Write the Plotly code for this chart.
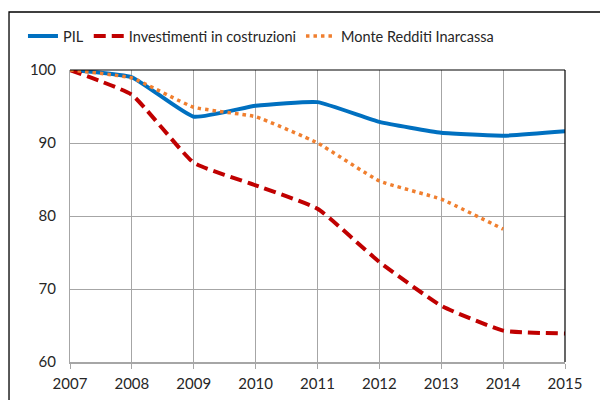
import plotly.graph_objects as go

years = [2007, 2008, 2009, 2010, 2011, 2012, 2013, 2014, 2015]
pil = [100, 99.0, 93.6, 95.1, 95.6, 92.9, 91.4, 91.0, 91.6]
investimenti = [100, 96.6, 87.3, 84.2, 81.0, 73.7, 67.7, 64.3, 63.9]
monte_years = [2007, 2008, 2009, 2010, 2011, 2012, 2013, 2014]
monte = [100, 98.9, 94.9, 93.6, 90.0, 84.8, 82.3, 78.2]
y_ticks = [60, 70, 80, 90, 100]

FONT = "Lato"
TXT = "#262626"
fig = go.Figure()
fig.add_trace(go.Scatter(x=years, y=pil, mode="lines", name="PIL",
                         line=dict(color="#0070C0", width=4, shape="spline", smoothing=0.4)))
fig.add_trace(go.Scatter(x=years, y=investimenti, mode="lines", name="Investimenti in costruzioni",
                         line=dict(color="#C00000", width=4, dash="12px,6px", shape="spline", smoothing=0.4)))
fig.add_trace(go.Scatter(x=monte_years, y=monte, mode="lines", name="Monte Redditi Inarcassa",
                         line=dict(color="#F07F2F", width=3.5, dash="3.5px,4px", shape="spline", smoothing=0.4)))

fig.update_layout(
    width=608, height=400,
    margin=dict(l=62, r=51, t=62, b=46),
    paper_bgcolor="white", plot_bgcolor="white",
    font=dict(family=FONT, size=15, color=TXT),
    showlegend=True,
    legend=dict(orientation="h", x=-0.095, xanchor="left", y=1.116, yanchor="middle",
                font=dict(family=FONT, size=14.5, color=TXT),
                bgcolor="rgba(0,0,0,0)", itemwidth=30, tracegroupgap=0),
    xaxis=dict(range=[2007, 2015], tickvals=years, ticktext=[str(y) for y in years],
               showgrid=True, gridcolor="#A6A6A6", gridwidth=1,
               showline=True, linecolor="#A6A6A6", linewidth=2,
               ticks="outside", ticklen=5, tickcolor="#A6A6A6",
               ticklabelstandoff=2,
               zeroline=False, tickfont=dict(size=15)),
    yaxis=dict(range=[60, 100], tickvals=y_ticks,
               showgrid=True, gridcolor="#A6A6A6", gridwidth=1,
               showline=True, linecolor="#A6A6A6", linewidth=1,
               ticks="", zeroline=False, tickfont=dict(size=15),
               ticklabelstandoff=10),
    shapes=[
        dict(type="line", xref="paper", yref="paper", x0=0, x1=1, y0=1, y1=1,
             line=dict(color="black", width=1.2)),
        dict(type="line", xref="paper", yref="paper", x0=1, x1=1, y0=0, y1=1,
             line=dict(color="black", width=1.2)),
        dict(type="rect", xref="paper", yref="paper", x0=-0.1232, x1=1.12, y0=-0.2, y1=1.1986,
             line=dict(color="black", width=1.3), fillcolor="rgba(0,0,0,0)"),
    ],
)
fig.write_html("out.html")
